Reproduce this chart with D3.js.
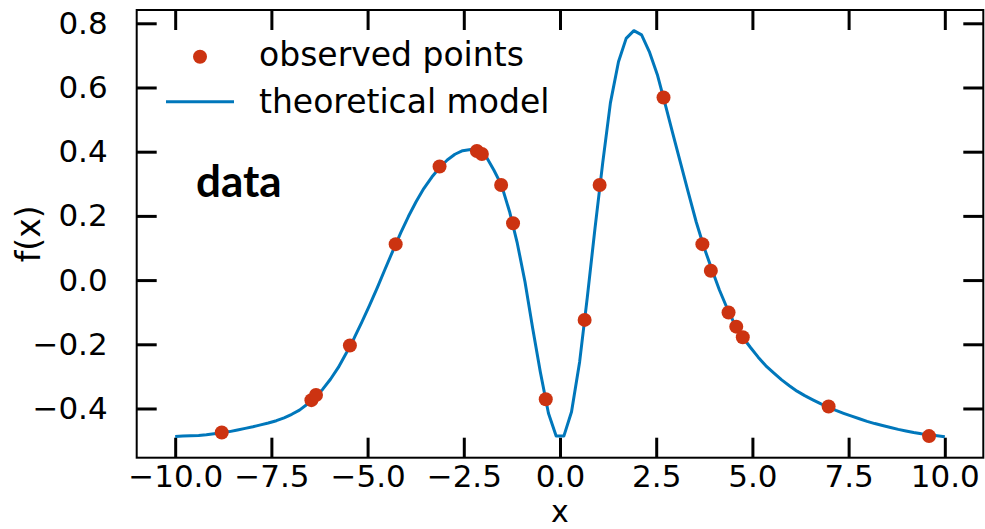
<!DOCTYPE html>
<html><head><meta charset="utf-8">
<script src="https://cdn.jsdelivr.net/npm/d3@7"></script>
<style>html,body{margin:0;padding:0;background:#fff;}svg{display:block;}</style>
</head><body>
<svg id="chart" width="985" height="529"></svg>
<script>
// observed points
const obsX = [-8.79, -6.46, -6.34, -5.46, -4.27, -3.13, -2.16, -2.03, -1.53, -1.22, -0.37, 0.64, 1.03, 2.69, 3.70, 3.92, 4.38, 4.58, 4.75, 6.98, 9.59];
const obsY = [-0.475, -0.374, -0.358, -0.204, 0.112, 0.354, 0.402, 0.393, 0.296, 0.177, -0.371, -0.124, 0.296, 0.569, 0.112, 0.029, -0.101, -0.145, -0.178, -0.394, -0.486];
// theoretical model
const modelX = [-10.00,-9.80,-9.60,-9.39,-9.19,-8.99,-8.79,-8.59,-8.38,-8.18,
  -7.98,-7.78,-7.58,-7.37,-7.17,-6.97,-6.77,-6.57,-6.36,-6.16,
  -5.96,-5.76,-5.56,-5.35,-5.15,-4.95,-4.75,-4.55,-4.34,-4.14,
  -3.94,-3.74,-3.54,-3.33,-3.13,-2.93,-2.73,-2.53,-2.32,-2.12,
  -1.92,-1.72,-1.52,-1.31,-1.11,-0.91,-0.71,-0.51,-0.30,-0.10,
  0.10,0.30,0.51,0.71,0.91,1.11,1.31,1.52,1.72,1.92,
  2.12,2.32,2.53,2.73,2.93,3.13,3.33,3.54,3.74,3.94,
  4.14,4.34,4.55,4.75,4.95,5.15,5.35,5.56,5.76,5.96,
  6.16,6.36,6.57,6.77,6.97,7.17,7.37,7.58,7.78,7.98,
  8.18,8.38,8.59,8.79,8.99,9.19,9.39,9.60,9.80,10.00];
const modelY = [-0.487,-0.486,-0.485,-0.484,-0.482,-0.479,-0.476,-0.472,-0.467,-0.462,
  -0.457,-0.451,-0.445,-0.438,-0.429,-0.418,-0.405,-0.387,-0.365,-0.339,
  -0.308,-0.272,-0.229,-0.181,-0.131,-0.079,-0.024,0.033,0.092,0.147,
  0.198,0.244,0.285,0.321,0.350,0.374,0.392,0.403,0.407,0.402,
  0.385,0.343,0.296,0.213,0.115,-0.005,-0.150,-0.287,-0.415,-0.486,
  -0.486,-0.410,-0.255,-0.053,0.162,0.365,0.552,0.680,0.753,0.777,
  0.764,0.712,0.640,0.550,0.457,0.366,0.275,0.181,0.103,0.035,
  -0.030,-0.087,-0.140,-0.178,-0.210,-0.240,-0.267,-0.290,-0.311,-0.329,
  -0.346,-0.360,-0.373,-0.385,-0.396,-0.406,-0.415,-0.424,-0.432,-0.440,
  -0.447,-0.453,-0.459,-0.465,-0.470,-0.475,-0.479,-0.482,-0.485,-0.488];
const xTicks = [-10, -7.5, -5, -2.5, 0, 2.5, 5, 7.5, 10];
const yTicks = [-0.4, -0.2, 0.0, 0.2, 0.4, 0.6, 0.8];
const legendLabels = ["observed points", "theoretical model"];
const annotation = "data";

const dotColor = "#cc3311", lineColor = "#0077bb";
const L = 136.7, R = 983.3, T = 10, B = 457.7;
const svg = d3.select("#chart");
const x = d3.scaleLinear().domain([-11, 11]).range([L, R]);
const y = d3.scaleLinear().domain([-0.5533, 0.8414]).range([B, T]);
const fmt = v => (v < 0 ? "\u2212" : "") + Math.abs(v).toFixed(1);
const tickFont = "31px 'DejaVu Sans'";
const labelFont = "33px 'DejaVu Sans'";

// axes
const tickLen = 20;
const axB = svg.append("g").attr("transform", `translate(0,${B})`)
  .call(d3.axisBottom(x).tickValues(xTicks).tickFormat(fmt).tickSizeInner(-tickLen).tickSizeOuter(0));
const axT = svg.append("g").attr("transform", `translate(0,${T})`)
  .call(d3.axisTop(x).tickValues(xTicks).tickFormat("").tickSizeInner(-tickLen).tickSizeOuter(0));
const axL = svg.append("g").attr("transform", `translate(${L},0)`)
  .call(d3.axisLeft(y).tickValues(yTicks).tickFormat(fmt).tickSizeInner(-tickLen).tickSizeOuter(0).tickPadding(tickLen + 9));
const axR = svg.append("g").attr("transform", `translate(${R},0)`)
  .call(d3.axisRight(y).tickValues(yTicks).tickFormat("").tickSizeInner(-tickLen).tickSizeOuter(0));
[axB, axT, axL, axR].forEach(a => {
  a.select(".domain").remove();
  a.selectAll(".tick line").attr("stroke", "#000").attr("stroke-width", 3);
  a.selectAll("text").attr("fill", "#000").style("font", tickFont);
});
axB.selectAll("text").attr("dy", null).attr("y", 29);

// model line
const line = d3.line().x(d => x(d[0])).y(d => y(d[1])).curve(d3.curveLinear);
svg.append("path").datum(modelX.map((v, i) => [v, modelY[i]]))
  .attr("d", line).attr("fill", "none").attr("stroke", lineColor).attr("stroke-width", 3).attr("stroke-linejoin", "round");
// points
svg.append("g").selectAll("circle").data(obsX.map((v, i) => [v, obsY[i]])).join("circle")
  .attr("cx", d => x(d[0])).attr("cy", d => y(d[1])).attr("r", 7).attr("fill", dotColor);

// frame
svg.append("rect").attr("x", L).attr("y", T).attr("width", R - L).attr("height", B - T)
  .attr("fill", "none").attr("stroke", "#000").attr("stroke-width", 2);

// axis labels
svg.append("text").attr("x", (L + R) / 2).attr("y", 522).attr("text-anchor", "middle")
  .style("font", "30px 'DejaVu Sans'").attr("fill", "#000").text("x");
svg.append("text").attr("transform", `translate(40,${(T + B) / 2}) rotate(-90)`).attr("text-anchor", "middle")
  .style("font", labelFont).attr("fill", "#000").text("f(x)");

// legend
const lg = svg.append("g");
lg.append("circle").attr("cx", 200).attr("cy", 56.7).attr("r", 7).attr("fill", dotColor);
lg.append("line").attr("x1", 166).attr("x2", 234).attr("y1", 101.7).attr("y2", 101.7).attr("stroke", lineColor).attr("stroke-width", 3);
lg.selectAll("text").data(legendLabels).join("text")
  .attr("x", 259).attr("y", (d, i) => 65.5 + i * 47)
  .style("font", labelFont).attr("fill", "#000").text(d => d);

// annotation
svg.append("text").attr("x", 196).attr("y", 197).style("font", "bold 44px Lato").attr("fill", "#000").text(annotation);
</script>
</body></html>
